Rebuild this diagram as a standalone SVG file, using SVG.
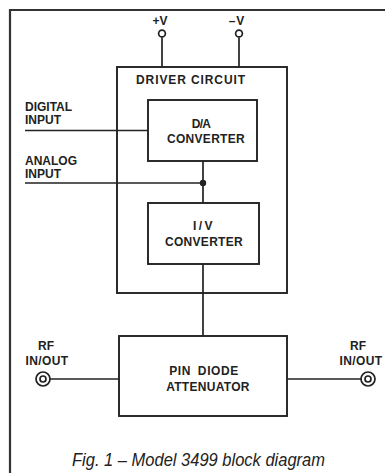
<svg xmlns="http://www.w3.org/2000/svg" width="385" height="473" viewBox="0 0 385 473">
<style>
.ln{fill:none;stroke:#222;stroke-width:1.7}
.bx{fill:none;stroke:#222;stroke-width:1.9}
.t{font-family:"Liberation Sans",Arial,sans-serif;font-weight:bold;font-size:12px;fill:#222}
.c{text-anchor:middle}
.cap{font-family:"Liberation Sans",Arial,sans-serif;font-style:italic;font-size:18px;fill:#222}
</style>
<rect width="385" height="473" fill="#fff"/>
<path d="M10,473 V10 H385" fill="none" stroke="#333" stroke-width="2.2"/>
<g id="connectors">
<path class="ln" d="M162,37.5 V67"/>
<path class="ln" d="M239,37.5 V67"/>
<path class="ln" d="M25,130.5 H148"/>
<path class="ln" d="M25,183 H203"/>
<path class="ln" d="M203,161 V203"/>
<circle cx="203" cy="183" r="3.2" fill="#222"/>
<path class="ln" d="M203,264 V336"/>
<path class="ln" d="M50,379 H119"/>
<path class="ln" d="M287,379 H361"/>
</g>
<g id="vplus">
<circle cx="162" cy="33.5" r="3.4" fill="#fff" stroke="#222" stroke-width="1.7"/>
<text class="t c" x="160" y="25">+V</text>
</g>
<g id="vminus">
<circle cx="239" cy="33.5" r="3.4" fill="#fff" stroke="#222" stroke-width="1.7"/>
<text class="t c" x="237" y="25" style="letter-spacing:1px">–V</text>
</g>
<g id="driver">
<rect class="bx" x="117" y="67" width="170" height="226"/>
<text class="t c" x="191" y="84" style="letter-spacing:0.9px">DRIVER CIRCUIT</text>
</g>
<g id="digital-input">
<text class="t" x="25" y="110.5">DIGITAL</text>
<text class="t" x="25" y="123.5">INPUT</text>
</g>
<g id="analog-input">
<text class="t" x="25" y="165">ANALOG</text>
<text class="t" x="25" y="178">INPUT</text>
</g>
<g id="da">
<rect class="bx" x="148" y="100" width="109" height="61"/>
<text class="t c" x="201" y="128" style="letter-spacing:-0.8px">D/A</text>
<text class="t c" x="206" y="142.7" style="letter-spacing:0.3px">CONVERTER</text>
</g>
<g id="iv">
<rect class="bx" x="148" y="203" width="111" height="61"/>
<text class="t c" x="204" y="230" style="letter-spacing:2.5px">I/V</text>
<text class="t c" x="204" y="245.5" style="letter-spacing:0.3px">CONVERTER</text>
</g>
<g id="attenuator">
<rect class="bx" x="119" y="336" width="168" height="80"/>
<text class="t c" x="204" y="375" style="letter-spacing:0.6px;word-spacing:3px">PIN DIODE</text>
<text class="t c" x="208" y="390.7" style="letter-spacing:0.3px">ATTENUATOR</text>
</g>
<g id="rf-left">
<circle cx="43" cy="379" r="7" fill="none" stroke="#222" stroke-width="1.7"/>
<circle cx="43" cy="379" r="3" fill="none" stroke="#222" stroke-width="1.7"/>
<text class="t c" x="46" y="350">RF</text>
<text class="t c" x="47" y="365" style="letter-spacing:0.4px">IN/OUT</text>
</g>
<g id="rf-right">
<circle cx="368" cy="379" r="7" fill="none" stroke="#222" stroke-width="1.7"/>
<circle cx="368" cy="379" r="3" fill="none" stroke="#222" stroke-width="1.7"/>
<text class="t c" x="358" y="350">RF</text>
<text class="t c" x="361" y="365" style="letter-spacing:0.4px">IN/OUT</text>
</g>
<text class="cap" x="72" y="466" textLength="253" lengthAdjust="spacingAndGlyphs">Fig. 1 – Model 3499 block diagram</text>
</svg>
